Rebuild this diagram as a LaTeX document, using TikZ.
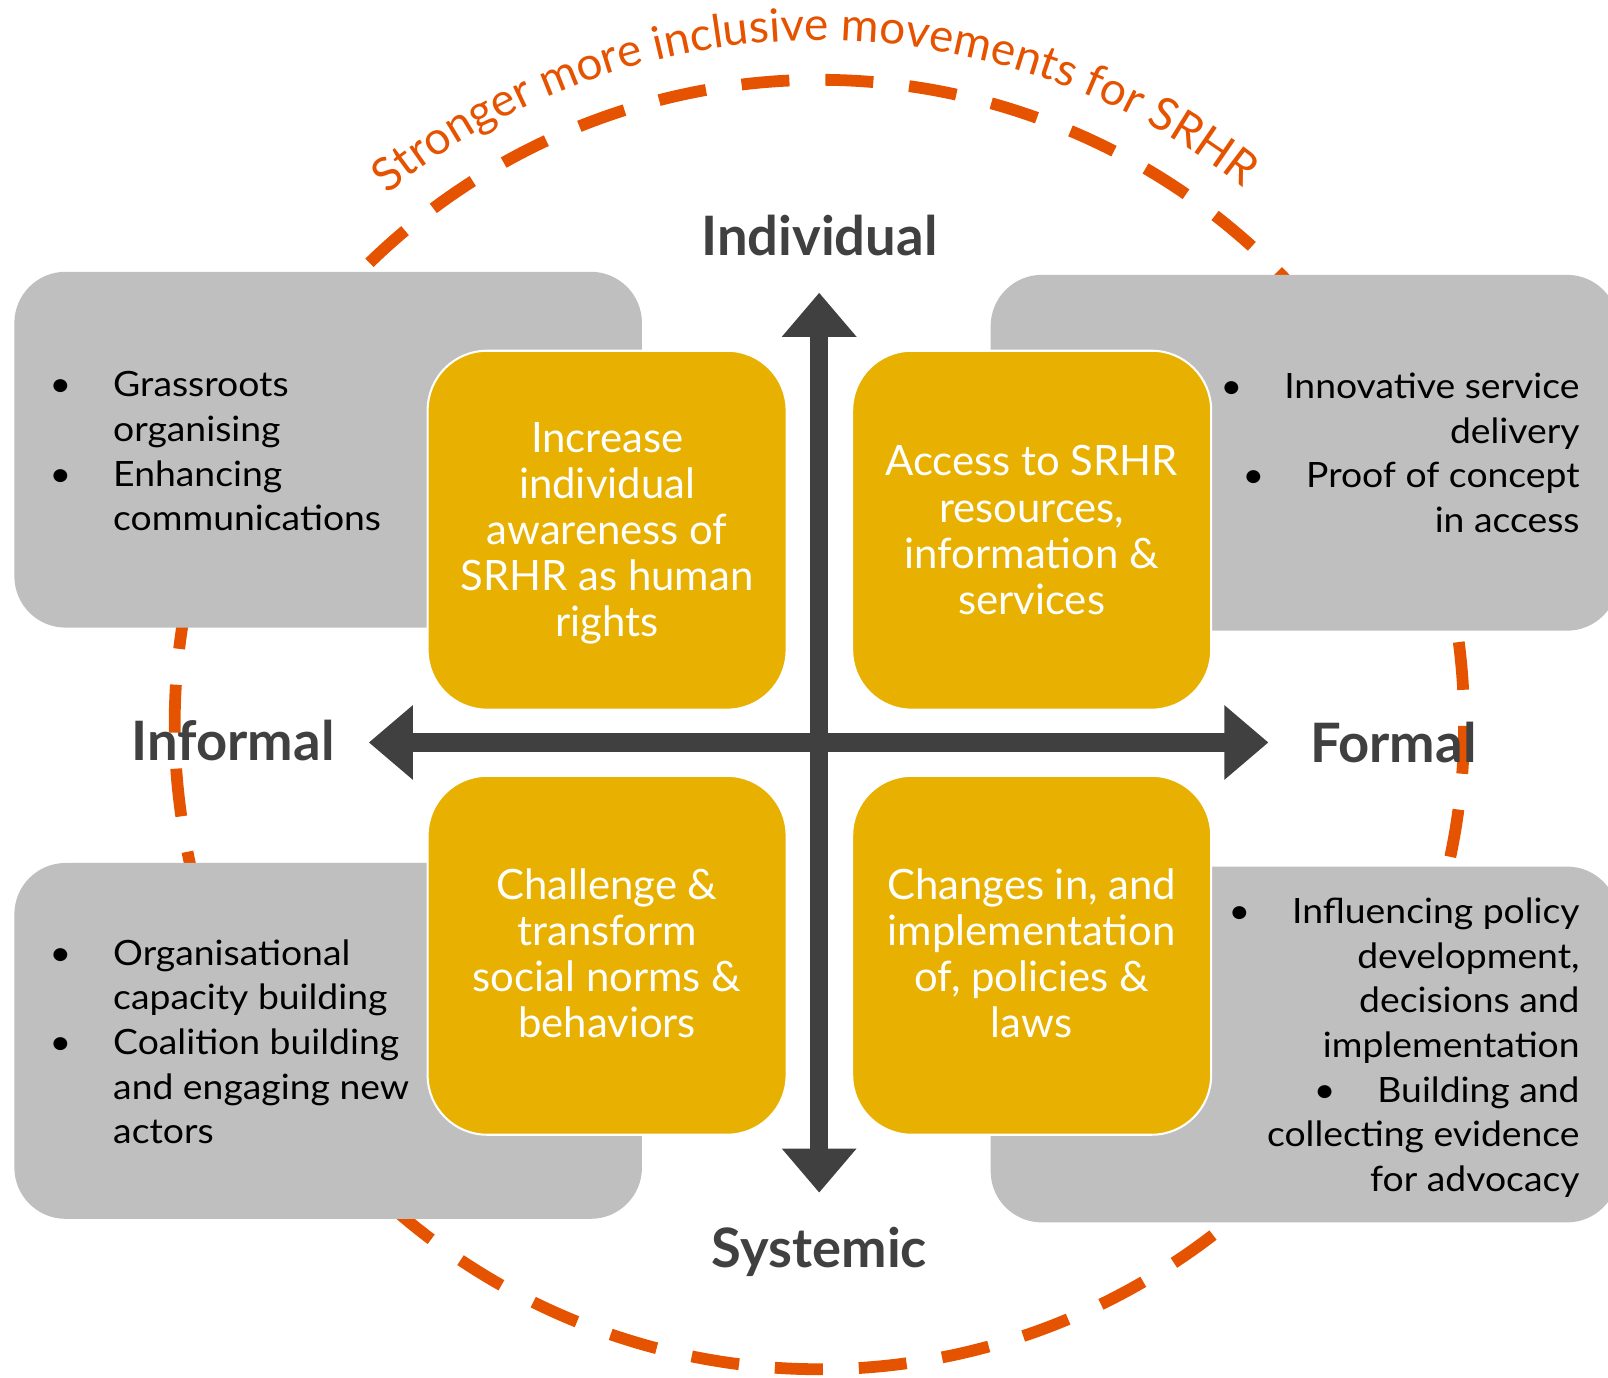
\documentclass[tikz,border=0pt]{standalone}
\usepackage{fontspec}
\setmainfont{Lato}
\newfontfamily\widelato[FakeStretch=1.07]{Lato}
\usetikzlibrary{arrows.meta,decorations.text}
\definecolor{srhrorange}{HTML}{E65300}
\definecolor{boxgray}{HTML}{BFBFBF}
\definecolor{boxyellow}{HTML}{E8B000}
\definecolor{axisgray}{HTML}{404040}
\newcommand{\lbul}{\llap{\makebox[31pt][l]{\textbullet}}}
\newcommand{\rbul}{\makebox[31pt][l]{\textbullet}}
\begin{document}
\begin{tikzpicture}[x=0.5pt,y=-0.5pt,
  graybox/.style={fill=boxgray, rounded corners=25pt, minimum width=306pt, minimum height=173.5pt, inner sep=0pt},
  yellowbox/.style={fill=boxyellow, draw=white, line width=1pt, rounded corners=29pt, minimum width=175pt, minimum height=175pt, inner sep=0pt},
  yellowtext/.style={text=white, align=center, font=\fontsize{20.4}{22.5}\selectfont, inner sep=0pt},
  graytext/.style={text=black, inner sep=0pt, font=\widelato\fontsize{17}{21.8}\selectfont},
  axislabel/.style={text=axisgray, inner sep=0pt, font=\fontsize{26.5}{30}\selectfont\bfseries},
  axisarrow/.style={draw=axisgray, line width=9pt, {Triangle[length=21.5pt,width=35pt]}-{Triangle[length=21.5pt,width=35pt]}},
  ring/.style={draw=srhrorange, line width=5.75pt, dash pattern=on 23.4pt off 17.55pt, dash phase=22.6pt}
]
\useasboundingbox (0,0) rectangle (1568,1343);
% dashed ring
\coordinate (c) at (799,706.5);
\draw[ring] (c) ++(200:628.5) arc[start angle=200, delta angle=360, radius=628.5];
% gray boxes
\node[graybox] (gtl) at (320,438.5) {};
\node[graybox] (gtr) at (1272,441.5) {};
\node[graybox] (gbl) at (320,1015) {};
\node[graybox] (gbr) at (1272,1018.5) {};
% yellow boxes
\node[yellowbox] (ytl) at (592,517) {};
\node[yellowbox] (ytr) at (1006,517) {};
\node[yellowbox] (ybl) at (592,931.5) {};
\node[yellowbox] (ybr) at (1006,931.5) {};
\node[yellowtext] (ttl) at ([yshift=-1.5pt]ytl.center) {Increase\\individual\\awareness of\\SRHR as human\\rights};
\node[yellowtext] (ttr) at (ytr.center) {Access to SRHR\\resources,\\information \&\\services};
\node[yellowtext] (tbl) at ([yshift=1pt]ybl.center) {Challenge \&\\transform\\social norms \&\\behaviors};
\node[yellowtext] (tbr) at ([yshift=1pt]ybr.center) {Changes in, and\\implementation\\of, policies \&\\laws};
% gray box texts
\node[graytext, anchor=base west] (xtl) at (110,386.8) {\begin{tabular}[t]{@{}l@{}}\lbul Grassroots\\organising\\\lbul Enhancing\\communications\end{tabular}};
\node[graytext, anchor=base west] (xbl) at (110,941) {\begin{tabular}[t]{@{}l@{}}\lbul Organisational\\capacity building\\\lbul Coalition building\\and engaging new\\actors\end{tabular}};
\node[graytext, anchor=base east] (xtr) at (1540.7,388.4) {\begin{tabular}[t]{@{}r@{}}\rbul Innovative service\\delivery\\\rbul Proof of concept\\in access\end{tabular}};
\node[graytext, anchor=base east] (xbr) at (1540.7,900.4) {\begin{tabular}[t]{@{}r@{}}\rbul Influencing policy\\development,\\decisions and\\implementation\\\rbul Building and\\collecting evidence\\for advocacy\end{tabular}};
% axes
\coordinate (atop) at (798.8,285.4);
\coordinate (abot) at (798.8,1163);
\coordinate (aleft) at (359.6,724);
\coordinate (aright) at (1236.9,724);
\draw[axisarrow] (abot) -- (atop);
\draw[axisarrow] (aleft) -- (aright);
% axis labels
\node[axislabel, anchor=base] (lind) at (799,249.6) {Individual};
\node[axislabel, anchor=base west] (linf) at (128,741.8) {Informal};
\node[axislabel, anchor=base west] (lfor) at (1277,743.7) {Formal};
\node[axislabel, anchor=base] (lsys) at (799,1236) {Systemic};
% arc title
\path[decorate, decoration={text along path, text align=center,
  text={|\fontsize{22.4}{26}\selectfont\color{srhrorange}|Stronger more inclusive movements for SRHR}}]
  (c) ++(224.55:667) arc[start angle=224.55, end angle=314.55, radius=667];
\end{tikzpicture}
\end{document}
